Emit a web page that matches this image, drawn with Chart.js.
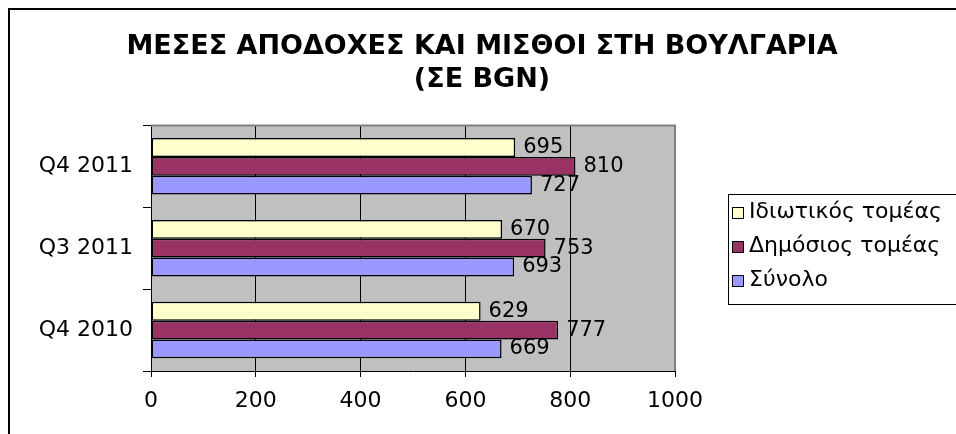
<!DOCTYPE html>
<html>
<head>
<meta charset="utf-8">
<script src="https://cdn.jsdelivr.net/npm/chart.js@4"></script>
<style>
  html, body { margin: 0; padding: 0; background: #fff; }
  #wrap { width: 956px; height: 434px; position: relative; }
</style>
</head>
<body>
<div id="wrap"><canvas id="bar1" width="956" height="434"></canvas></div>
<script>
const categories = ['Q4 2011', 'Q3 2011', 'Q4 2010'];
const seriesNames = ['Ιδιωτικός τομέας', 'Δημόσιος τομέας', 'Σύνολο'];
const privateSector = [695, 670, 629];
const publicSector = [810, 753, 777];
const total = [727, 693, 669];
const xTicks = [0, 200, 400, 600, 800, 1000];
const titleLines = ['ΜΕΣΕΣ ΑΠΟΔΟΧΕΣ ΚΑΙ ΜΙΣΘΟΙ ΣΤΗ ΒΟΥΛΓΑΡΙΑ', '(ΣΕ BGN)'];

const fontFam = "'DejaVu Sans', sans-serif";

// grey plot background + outer frame
const backdrop = {
    id: 'backdrop',
    beforeDraw(chart) {
        const ctx = chart.ctx, a = chart.chartArea;
        ctx.save();
        ctx.fillStyle = '#fff';
        ctx.fillRect(0, 0, chart.width, chart.height);
        ctx.strokeStyle = '#000';
        ctx.lineWidth = 2;
        ctx.strokeRect(9, 9, chart.width + 20, chart.height + 20);
        ctx.fillStyle = '#c0c0c0';
        ctx.fillRect(a.left, a.top, a.right - a.left, a.bottom - a.top);
        ctx.restore();
    },
    afterDatasetsDraw(chart) {
        const ctx = chart.ctx, a = chart.chartArea;
        ctx.save();
        ctx.strokeStyle = '#808080';
        ctx.lineWidth = 2;
        ctx.beginPath();
        ctx.moveTo(a.left, a.top);
        ctx.lineTo(a.right, a.top);
        ctx.lineTo(a.right, a.bottom);
        ctx.stroke();
        ctx.restore();
    }
};

// value labels at bar ends
const valueLabels = {
    id: 'valueLabels',
    afterDatasetsDraw(chart) {
        const ctx = chart.ctx;
        ctx.save();
        ctx.font = '21px ' + fontFam;
        ctx.fillStyle = '#000';
        ctx.textAlign = 'left';
        ctx.textBaseline = 'middle';
        chart.data.datasets.forEach((ds, i) => {
            chart.getDatasetMeta(i).data.forEach((bar, j) => {
                ctx.fillText(ds.data[j], bar.x + 8, bar.y);
            });
        });
        ctx.restore();
    }
};

// boxed legend on the right
const boxLegend = {
    id: 'boxLegend',
    afterDraw(chart) {
        const ctx = chart.ctx;
        const x0 = 728, y0 = 194, w = 240, h = 110;
        ctx.save();
        ctx.fillStyle = '#fff';
        ctx.fillRect(x0, y0, w, h);
        ctx.strokeStyle = '#000';
        ctx.lineWidth = 1;
        ctx.strokeRect(x0 + 0.5, y0 + 0.5, w, h);
        ctx.font = '22px ' + fontFam;
        ctx.textBaseline = 'middle';
        chart.data.datasets.forEach((ds, i) => {
            const cy = y0 + 18 + i * 34;
            ctx.fillStyle = ds.backgroundColor;
            ctx.fillRect(x0 + 4, cy - 5, 11, 11);
            ctx.strokeRect(x0 + 4.5, cy - 4.5, 11, 11);
            ctx.fillStyle = '#000';
            ctx.fillText(ds.label, x0 + 21, cy);
        });
        ctx.restore();
    }
};

const data = {
    labels: categories,
    datasets: [
        { label: seriesNames[0], data: privateSector, backgroundColor: '#ffffcc' },
        { label: seriesNames[1], data: publicSector, backgroundColor: '#993366' },
        { label: seriesNames[2], data: total, backgroundColor: '#9999ff' }
    ].map(d => Object.assign(d, { borderColor: '#000', borderWidth: 1.5, borderSkipped: false }))
};

new Chart(document.getElementById('bar1'), {
    type: 'bar',
    data: data,
    options: {
        indexAxis: 'y',
        responsive: false,
        animation: false,
        categoryPercentage: 0.69,
        barPercentage: 1.0,
        layout: { padding: { left: 8, top: 8, right: 0, bottom: 0 } },
        plugins: {
            legend: { display: false },
            tooltip: { enabled: false },
            title: {
                display: true,
                text: titleLines,
                color: '#000',
                font: { family: fontFam, size: 27, weight: 'bold', lineHeight: 1.23 },
                padding: { top: 22, bottom: 29 }
            }
        },
        scales: {
            x: {
                min: 0, max: 1000,
                afterBuildTicks: s => { s.ticks = xTicks.map(v => ({ value: v })); },
                afterFit: s => { s.height = 63; },
                border: { color: '#000', width: 1 },
                grid: { color: '#000', tickLength: 6, drawTicks: true },
                ticks: {
                    color: '#000', padding: 11,
                    font: { family: fontFam, size: 22 },
                    callback: v => String(v)
                }
            },
            y: {
                afterFit: s => { s.width = 143; },
                border: { color: '#000', width: 1 },
                grid: { drawOnChartArea: false, color: '#000', tickLength: 8, offset: true },
                ticks: { color: '#000', padding: 10, font: { family: fontFam, size: 22 } }
            },
            // empty right-hand axis that keeps room for the legend box
            spacer: {
                axis: 'y',
                position: 'right',
                afterFit: s => { s.width = 281; },
                grid: { display: false },
                border: { display: false },
                ticks: { display: false }
            }
        }
    },
    plugins: [backdrop, valueLabels, boxLegend]
});
</script>
</body>
</html>
